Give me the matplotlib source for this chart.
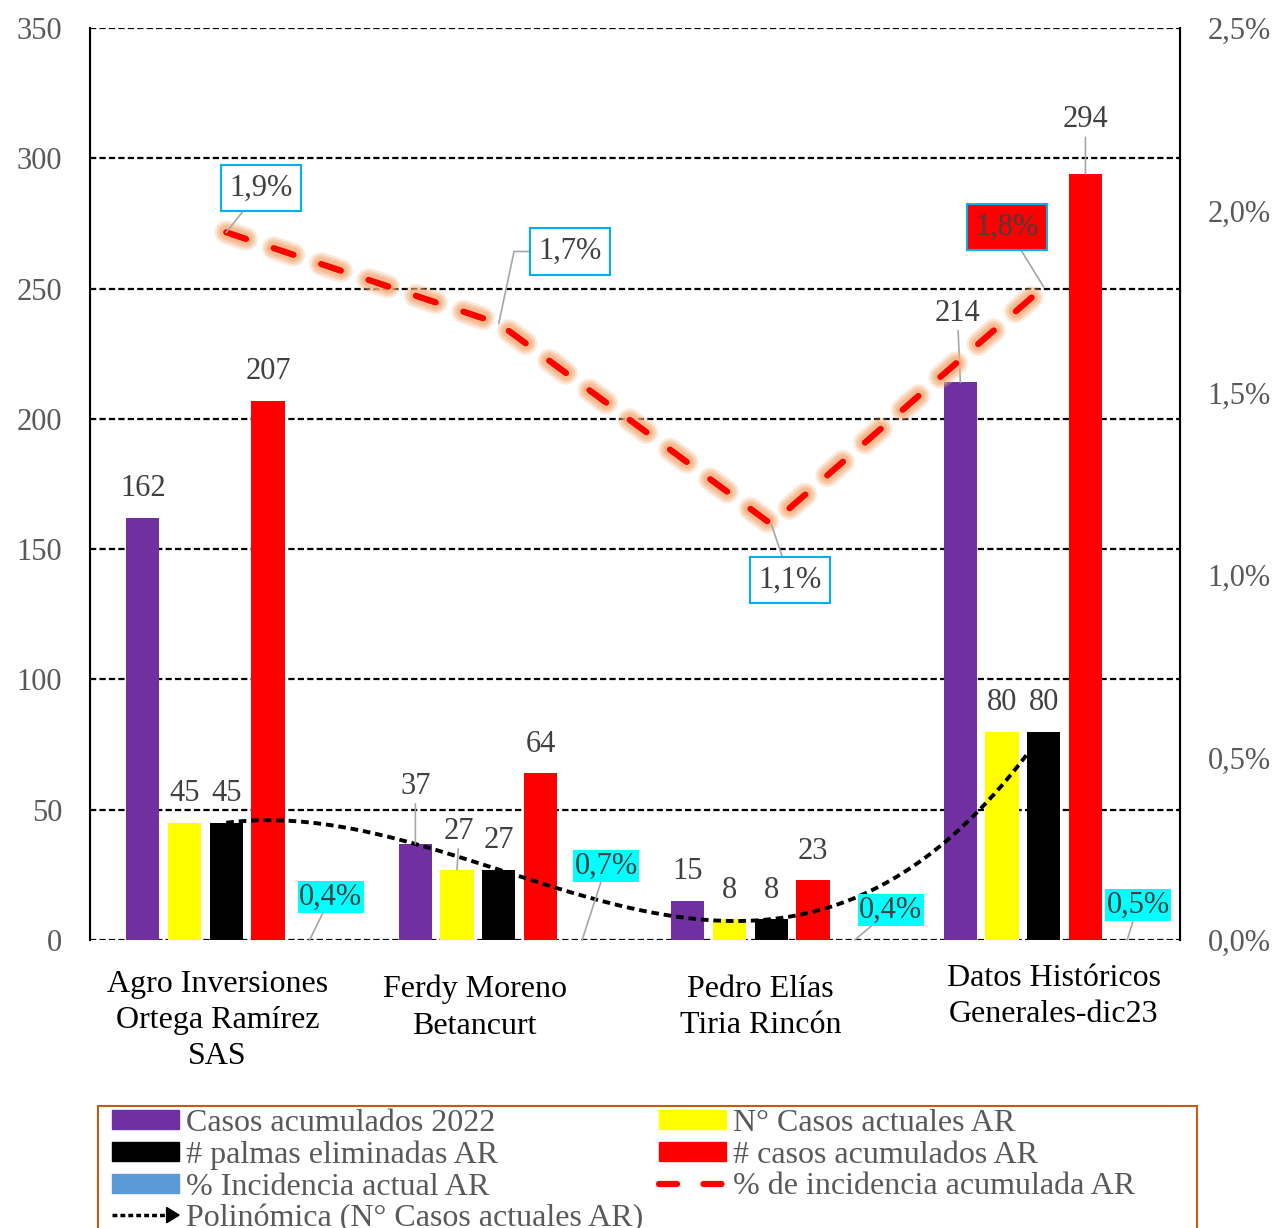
import numpy as np
import matplotlib.pyplot as plt
from matplotlib.lines import Line2D
from matplotlib.patches import Patch, Rectangle, Polygon
from matplotlib.legend_handler import HandlerBase
from matplotlib.ticker import FuncFormatter
from matplotlib.transforms import ScaledTranslation

plt.rcParams['font.family'] = ['Liberation Serif', 'DejaVu Serif']
plt.rcParams['lines.scale_dashes'] = False

# datos por finca
fincas = ["Agro Inversiones\nOrtega Ramírez\nSAS", "Ferdy Moreno\nBetancurt",
          "Pedro Elías\nTiria Rincón", "Datos Históricos\nGenerales-dic23"]
casos_2022 = [162, 37, 15, 214]
casos_actuales = [45, 27, 8, 80]
palmas_eliminadas = [45, 27, 8, 80]
casos_acumulados = [207, 64, 23, 294]
incidencia_actual = [0.004, 0.007, 0.004, 0.005]
incidencia_acumulada = [0.0194, 0.0169, 0.0114, 0.0179]


def pct(v):
    return f"{v * 100:.1f}%".replace('.', ',')


class ArrowHandler(HandlerBase):
    def create_artists(self, legend, orig_handle, xdescent, ydescent, width, height, fontsize, trans):
        y = height / 2 - ydescent
        x0 = -xdescent
        x1 = width - xdescent
        line = Line2D([x0, x1 - 8], [y, y], color='black', lw=2.5, ls=(0, (3.5, 2.2)), transform=trans)
        head = Polygon([[x1 - 9, y - 5.5], [x1 - 9, y + 5.5], [x1, y]], closed=True,
                       color='black', transform=trans)
        return [line, head]


fig = plt.figure(figsize=(12.78, 12.28), dpi=100)
ax = fig.add_axes([90 / 1278, 1 - 940 / 1228, 1090 / 1278, 912 / 1228])
ax2 = ax.twinx()

x = np.arange(len(fincas))
step = 0.153
width = 0.122
text_gray = '#595959'
label_gray = '#404040'
leader = '#A6A6A6'

series = [
    (casos_2022, '#7030A0', [(0, 29), (0, 57), (0, 29), (-3, 69)]),
    (casos_actuales, '#FFFF00', [(0, 29), (2, 38), (0, 29), (0, 29)]),
    (palmas_eliminadas, '#000000', [(0, 29), (0, 29), (0, 29), (0, 29)]),
    (casos_acumulados, '#FF0000', [(0, 29), (0, 29), (0, 29), (0, 54)]),
]
for k, (vals, color, offs) in enumerate(series):
    xs = x + (k - 2) * step
    ax.bar(xs, vals, width, color=color, zorder=2)
    for xi, v, (dx, dy) in zip(xs, vals, offs):
        props = dict(arrowstyle='-', color=leader, lw=1.2, shrinkA=0, shrinkB=0) if dy > 35 else None
        ax.annotate(str(v), xy=(xi, v), xytext=(dx, dy), textcoords='offset pixels',
                    ha='center', va='center', fontsize=22, color=label_gray,
                    arrowprops=props, zorder=4)

# % incidencia actual (barras muy pequeñas en el eje principal)
xs_blue = x + 2 * step
ax.bar(xs_blue, incidencia_actual, width, color='#5B9BD5', zorder=2)
blue_offs = [(21, 43), (24, 74), (36, 30), (11, 35)]
for xi, v, (dx, dy) in zip(xs_blue, incidencia_actual, blue_offs):
    ax.annotate(pct(v), xy=(xi, v), xytext=(dx, dy), textcoords='offset pixels',
                ha='center', va='center', fontsize=22, color=label_gray,
                bbox=dict(boxstyle='square,pad=0.05', fc='#00FFFF', ec='none'),
                arrowprops=dict(arrowstyle='-', color=leader, lw=1.2, shrinkA=0, shrinkB=0),
                zorder=4)

# línea de tendencia polinómica de orden 3
coef = np.polyfit(x, casos_actuales, 3)
xt = np.linspace(x[0], x[-1], 200)
yt = np.polyval(coef, xt)
ax.plot(xt, yt, color='black', lw=2.8, ls=(0, (5.5, 3.5)), zorder=3)

ax.set_xlim(-0.5, 3.5)
ax.set_ylim(0, 350)
ax.set_yticks(range(0, 351, 50))
ax.grid(axis='y', color='black', lw=1.6, ls=(0, (4.5, 2.3)), zorder=1)
ax.set_axisbelow(True)
ax.set_xticks(x)
ax.set_xticklabels(fincas, fontsize=23, color='black', linespacing=1.32, va='top')
ax.tick_params(axis='x', length=0, pad=18)
ax.tick_params(axis='y', length=0, pad=20, labelsize=22, labelcolor=text_gray)
# pequeños desplazamientos de las etiquetas de categoría
nudges = [(-9, -5), (-24, -10), (-11, -10), (10, 1)]
for lab, (dx, dy) in zip(ax.get_xticklabels(), nudges):
    lab.set_transform(lab.get_transform() + ScaledTranslation(dx / 100, dy / 100, fig.dpi_scale_trans))
for s in ['top', 'bottom']:
    ax.spines[s].set_visible(False)
    ax2.spines[s].set_visible(False)
for s in ['left', 'right']:
    ax2.spines[s].set_color('black')
    ax2.spines[s].set_linewidth(1.5)

# % de incidencia acumulada con resplandor
for lw, a in [(17, 0.28), (13.5, 0.42), (10, 0.6)]:
    ax2.plot(x, incidencia_acumulada, color='#F7AE7A', lw=lw, alpha=a,
             ls=(0, (15, 21)), dash_capstyle='round', zorder=2)
ax2.plot(x, incidencia_acumulada, color='#FF0000', lw=4.5, ls=(0, (15, 21)),
         dash_capstyle='round', zorder=3)
ax2.set_ylim(0, 0.025)
ax2.set_yticks(np.arange(0, 0.0251, 0.005))
ax2.yaxis.set_major_formatter(FuncFormatter(lambda v, p: pct(v)))
ax2.tick_params(axis='y', length=0, pad=20, labelsize=22, labelcolor=text_gray)

line_offs = [(35, 44), (71, 72), (19, -56), (-37, 60)]
line_fc = ['white', 'white', 'white', '#FF0000']
for xi, v, (dx, dy), fc in zip(x, incidencia_acumulada, line_offs, line_fc):
    conn = 'angle,angleA=0,angleB=78,rad=0' if dx > 60 else 'arc3'
    ax2.annotate(pct(v), xy=(xi, v), xytext=(dx, dy), textcoords='offset pixels',
                 ha='center', va='center', fontsize=22, color=label_gray,
                 bbox=dict(boxstyle='square,pad=0.28', fc=fc, ec='#00B0F0', lw=1.5),
                 arrowprops=dict(arrowstyle='-', color=leader, lw=1.2, shrinkA=0, shrinkB=0,
                                 connectionstyle=conn),
                 zorder=5)

# leyenda
h_purple = Patch(color='#7030A0')
h_yellow = Patch(color='#FFFF00')
h_black = Patch(color='#000000')
h_red = Patch(color='#FF0000')
h_blue = Patch(color='#5B9BD5')
h_line = Line2D([], [], color='#FF0000', lw=4.5, ls=(0, (13, 19)), dash_capstyle='round')
h_poly = object()
handles = [h_purple, h_black, h_blue, h_poly, h_yellow, h_red, h_line]
labels = ['Casos acumulados 2022', '# palmas eliminadas AR', '% Incidencia actual AR',
          'Polinómica (N° Casos actuales AR)', 'N° Casos actuales AR',
          '# casos acumulados AR', '% de incidencia acumulada AR']
leg = fig.legend(handles, labels, ncol=2, loc='upper left',
                 bbox_to_anchor=(112 / 1278, 1 - 1109 / 1228), frameon=False,
                 fontsize=23, handlelength=2.1, handleheight=0.52, handletextpad=0.22,
                 columnspacing=0.5, labelspacing=0.08, borderpad=0, borderaxespad=0,
                 labelcolor=text_gray, handler_map={h_poly: ArrowHandler()})
fig.add_artist(Rectangle((98 / 1278, -0.02), (1197 - 98) / 1278, (1228 - 1106) / 1228 + 0.02,
                         transform=fig.transFigure, fill=False, ec='#C55A11', lw=1.5))

fig.savefig('out.png', dpi=100)
